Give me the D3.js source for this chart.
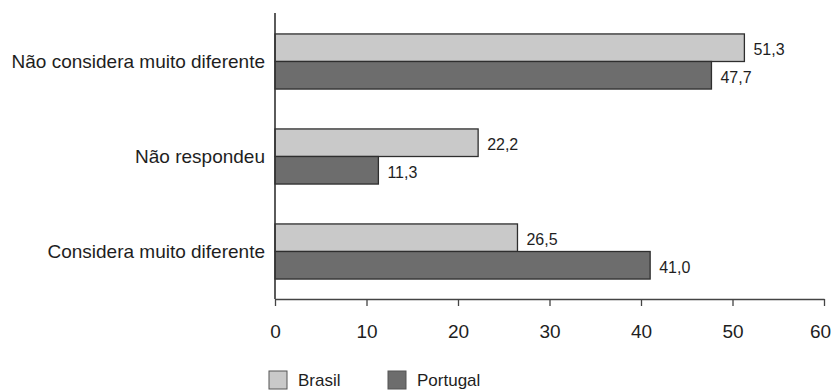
<!DOCTYPE html>
<html>
<head>
<meta charset="utf-8">
<script src="https://cdn.jsdelivr.net/npm/d3@7"></script>
<style>
  html, body { margin: 0; padding: 0; background: #fff; }
  svg { display: block; font-family: "Liberation Sans", Arial, Helvetica, sans-serif; }
</style>
</head>
<body>
<svg id="chart" width="832" height="391"></svg>
<script>
// Categories (top to bottom) and the two series
const categories = ["Não considera muito diferente", "Não respondeu", "Considera muito diferente"];
const seriesNames = ["Brasil", "Portugal"];
const brasil = [51.3, 22.2, 26.5];
const portugal = [47.7, 11.3, 41.0];
const xTicks = [0, 10, 20, 30, 40, 50, 60];

const colors = { Brasil: "#c9c9c9", Portugal: "#6d6d6d" };
const ink = "#1e1e1e";

const svg = d3.select("#chart");
const margin = { left: 275, right: 8, top: 14, bottom: 92 };
const W = 832, H = 391;

const x = d3.scaleLinear().domain([0, 60]).range([margin.left, W - margin.right]);
const y = d3.scaleBand().domain(categories)
  .range([margin.top, H - margin.bottom])
  .paddingInner(0.42).paddingOuter(0.21);
const ySub = d3.scaleBand().domain(seriesNames).range([0, y.bandwidth()]);

const rows = categories.map((c, i) => ({
  category: c,
  values: [
    { series: "Brasil", value: brasil[i] },
    { series: "Portugal", value: portugal[i] }
  ]
}));

// bars
const groups = svg.append("g").selectAll("g").data(rows).join("g")
  .attr("transform", d => `translate(0,${y(d.category)})`);

groups.selectAll("rect").data(d => d.values).join("rect")
  .attr("x", x(0))
  .attr("y", d => ySub(d.series))
  .attr("width", d => x(d.value) - x(0))
  .attr("height", ySub.bandwidth())
  .attr("fill", d => colors[d.series])
  .attr("stroke", "#2e2e2e")
  .attr("stroke-width", 1.3);

// value labels
const fmt = v => v.toFixed(1).replace(".", ",");
groups.selectAll("text.val").data(d => d.values).join("text")
  .attr("class", "val")
  .attr("x", d => x(d.value) + 9)
  .attr("y", d => ySub(d.series) + ySub.bandwidth() / 2 + 2)
  .attr("dy", "0.35em")
  .attr("font-size", 16)
  .attr("fill", ink)
  .text(d => fmt(d.value));

// x axis
const xAxis = svg.append("g")
  .attr("transform", `translate(0,${H - margin.bottom})`)
  .call(d3.axisBottom(x).tickValues(xTicks).tickSize(7).tickSizeOuter(0).tickPadding(19));
xAxis.select(".domain").attr("stroke", "#444").attr("stroke-width", 1.6);
xAxis.selectAll(".tick line").attr("stroke", "#444").attr("stroke-width", 1.3);
xAxis.selectAll(".tick text").attr("font-size", 19).attr("fill", ink)
  .attr("font-family", "Liberation Sans, Arial, sans-serif")
  .attr("dx", d => d === 60 ? -4 : 0);

// y axis (category labels)
const yAxis = svg.append("g")
  .attr("transform", `translate(${x(0)},0)`)
  .call(d3.axisLeft(y).tickSize(0).tickSizeOuter(0).tickPadding(10));
yAxis.select(".domain").attr("stroke", "#333").attr("stroke-width", 1.6)
  .attr("d", `M0,${margin.top - 1}V${H - margin.bottom}`);
yAxis.selectAll(".tick text").attr("font-size", 19).attr("fill", ink)
  .attr("font-family", "Liberation Sans, Arial, sans-serif");

// legend
const legendX = [269, 388];
const legend = svg.append("g").selectAll("g").data(seriesNames).join("g")
  .attr("transform", (d, i) => `translate(${legendX[i]},371)`);
legend.append("rect")
  .attr("width", 18).attr("height", 18)
  .attr("fill", d => colors[d]).attr("stroke", "#555").attr("stroke-width", 1);
legend.append("text")
  .attr("x", 29).attr("y", 15)
  .attr("font-size", 17).attr("fill", ink)
  .text(d => d);
</script>
</body>
</html>
